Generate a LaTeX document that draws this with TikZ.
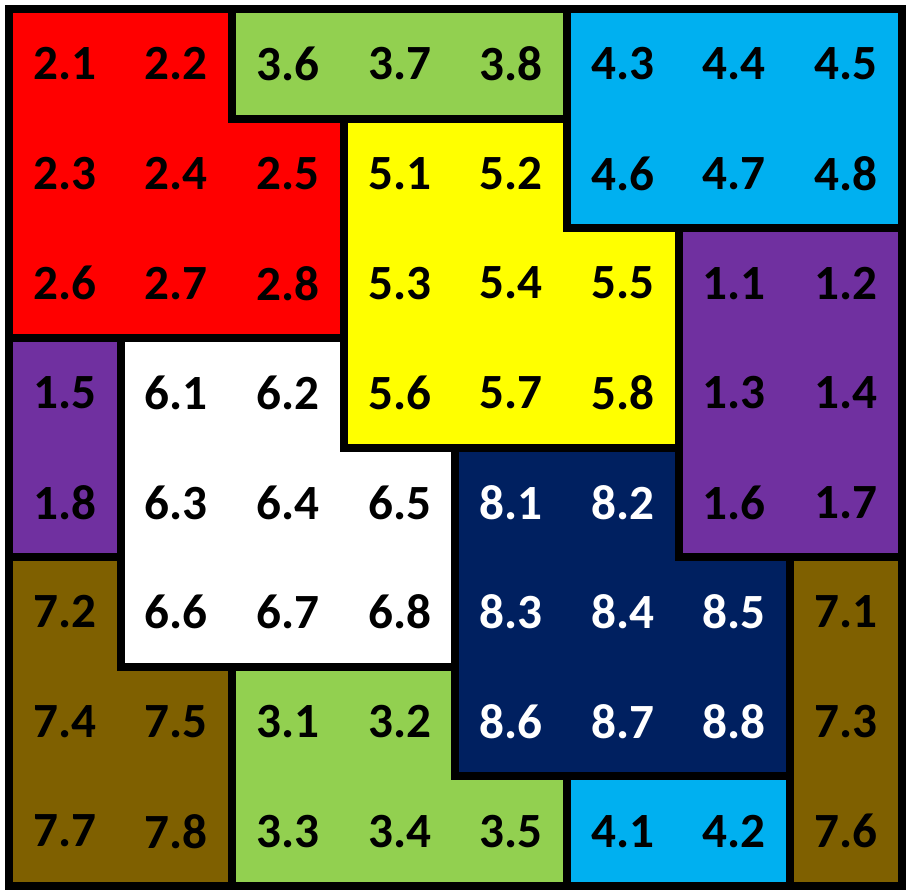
\documentclass[tikz,border=0pt]{standalone}
\usepackage{fontspec}
\setmainfont{Carlito}
\usetikzlibrary{positioning}
\definecolor{PieceRed}{RGB}{255,0,0}
\definecolor{PieceGreen}{RGB}{146,208,80}
\definecolor{PieceBlue}{RGB}{0,176,240}
\definecolor{PieceYellow}{RGB}{255,255,0}
\definecolor{PiecePurple}{RGB}{112,48,160}
\definecolor{PieceNavy}{RGB}{0,32,96}
\definecolor{PieceBrown}{RGB}{127,96,0}
\tikzset{
  piece/.style={
    draw=black,
    line width=2.3pt,
    line join=miter,
  },
  cell label/.style={
    inner sep=0pt,
    font=\fontsize{14}{16}\selectfont\bfseries,
  },
}

\begin{document}
\begin{tikzpicture}[x=1.116cm,y=1.096cm]

\useasboundingbox (-0.09cm,-0.09cm) rectangle (9.04cm,8.86cm);

% Pieces, grid corners counted from the lower left.
\fill[white] (0,0) rectangle (8,8);
\draw[piece,fill=PieceRed] (0,8) -- (2,8) -- (2,7) -- (3,7) -- (3,5) -- (0,5) -- cycle;
\draw[piece,fill=PieceGreen] (2,8) -- (5,8) -- (5,7) -- (2,7) -- cycle;
\draw[piece,fill=PieceBlue] (5,8) -- (8,8) -- (8,6) -- (5,6) -- cycle;
\draw[piece,fill=PieceYellow] (3,7) -- (5,7) -- (5,6) -- (6,6) -- (6,4) -- (3,4) -- cycle;
\draw[piece,fill=PiecePurple] (6,6) -- (8,6) -- (8,3) -- (6,3) -- cycle;
\draw[piece,fill=PiecePurple] (0,5) -- (1,5) -- (1,3) -- (0,3) -- cycle;
\draw[piece,fill=white] (1,5) -- (3,5) -- (3,4) -- (4,4) -- (4,2) -- (1,2) -- cycle;
\draw[piece,fill=PieceNavy] (4,4) -- (6,4) -- (6,3) -- (7,3) -- (7,1) -- (4,1) -- cycle;
\draw[piece,fill=PieceBrown] (0,3) -- (1,3) -- (1,2) -- (2,2) -- (2,0) -- (0,0) -- cycle;
\draw[piece,fill=PieceBrown] (7,3) -- (8,3) -- (8,0) -- (7,0) -- cycle;
\draw[piece,fill=PieceGreen] (2,2) -- (4,2) -- (4,1) -- (5,1) -- (5,0) -- (2,0) -- cycle;
\draw[piece,fill=PieceBlue] (5,1) -- (7,1) -- (7,0) -- (5,0) -- cycle;
\draw[piece] (0,0) rectangle (8,8);

% Cell labels, row by row from the top.
\foreach \row/\labels in {
    0/{2.1,2.2,3.6,3.7,3.8,4.3,4.4,4.5},
    1/{2.3,2.4,2.5,5.1,5.2,4.6,4.7,4.8},
    2/{2.6,2.7,2.8,5.3,5.4,5.5,1.1,1.2},
    3/{1.5,6.1,6.2,5.6,5.7,5.8,1.3,1.4},
    4/{1.8,6.3,6.4,6.5,8.1,8.2,1.6,1.7},
    5/{7.2,6.6,6.7,6.8,8.3,8.4,8.5,7.1},
    6/{7.4,7.5,3.1,3.2,8.6,8.7,8.8,7.3},
    7/{7.7,7.8,3.3,3.4,3.5,4.1,4.2,7.6}}
  \foreach \t [count=\col from 0] in \labels {
    \pgfmathtruncatemacro{\reg}{\t}
    \ifnum\reg=8 \def\tcol{white}\else\def\tcol{black}\fi
    \node[cell label,text=\tcol] (l-\row-\col) at (\col+0.5,7.5-\row) {\t};
  }

\end{tikzpicture}
\end{document}
